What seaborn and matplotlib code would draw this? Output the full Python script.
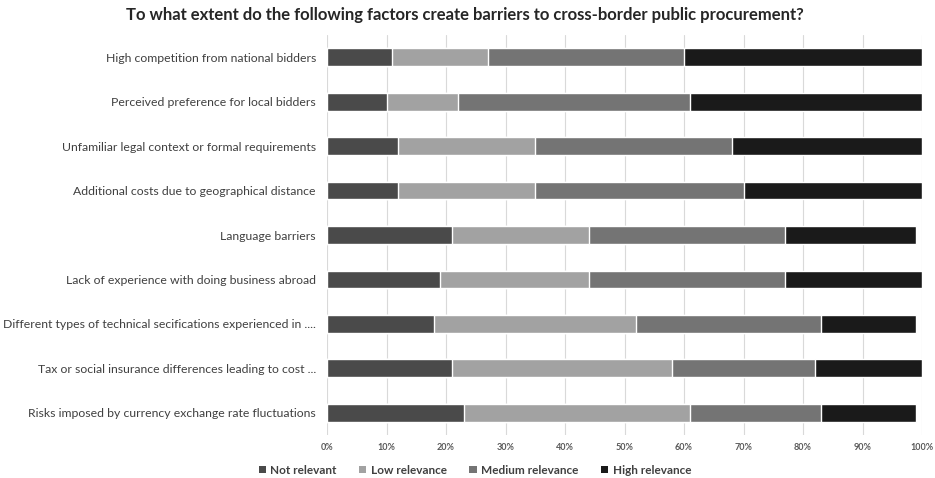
import pandas as pd
import numpy as np
import matplotlib.pyplot as plt
import seaborn as sns
from matplotlib.patches import Patch

# Dados (percentuais por categoria)
factors = [
    "High competition from national bidders",
    "Perceived preference for local bidders",
    "Unfamiliar legal context or formal requirements",
    "Additional costs due to geographical distance",
    "Language barriers",
    "Lack of experience with doing business abroad",
    "Different types of technical secifications experienced in ....",
    "Tax or social insurance differences leading to cost ...",
    "Risks imposed by currency exchange rate fluctuations",
]
not_relevant = [11, 10, 12, 12, 21, 19, 18, 21, 23]
low_relevance = [16, 12, 23, 23, 23, 25, 34, 37, 38]
medium_relevance = [33, 39, 33, 35, 33, 33, 31, 24, 22]
high_relevance = [40, 39, 32, 30, 22, 23, 16, 18, 16]

series_names = ["Not relevant", "Low relevance", "Medium relevance", "High relevance"]
colors = ["#4a4a4a", "#a2a2a2", "#747474", "#1a1a1a"]

df = pd.DataFrame({
    "factor": factors,
    "Not relevant": not_relevant,
    "Low relevance": low_relevance,
    "Medium relevance": medium_relevance,
    "High relevance": high_relevance,
})

# Acumulados para barras empilhadas
cum = df[series_names].cumsum(axis=1)

sns.set_style("white")
plt.rcParams["font.family"] = ["Lato", "DejaVu Sans"]

fig = plt.figure(figsize=(9.35, 4.78), dpi=100)
ax = fig.add_axes([327 / 935, 1 - 435 / 478, 595 / 935, 400 / 478])

# Desenha do maior acumulado para o menor
for name, color in reversed(list(zip(series_names, colors))):
    sns.barplot(x=cum[name], y=df["factor"], color=color, orient="h",
                width=0.4, ax=ax, saturation=1, zorder=3)

ax.set_xlim(0, 100)
ax.set_ylim(8.5, -0.5)
ax.set_xticks(np.arange(0, 101, 10))
ax.set_xticklabels([f"{v}%" for v in range(0, 101, 10)], fontsize=6.5,
                   fontweight="bold", color="#595959")
ax.tick_params(axis="y", labelsize=8.8, labelcolor="#404040", pad=8, length=0)
ax.tick_params(axis="x", length=0, pad=6)
ax.set_xlabel("")
ax.set_ylabel("")
ax.grid(axis="x", color="#d9d9d9", linewidth=0.8, zorder=0)
ax.grid(axis="y", visible=False)
for s in ax.spines.values():
    s.set_visible(False)

fig.suptitle("To what extent do the following factors create barriers to cross-border public procurement?",
             x=0.497, y=0.985, fontsize=12, fontweight="bold", color="#262626")

handles = [Patch(facecolor=c, edgecolor="none") for c in colors]
fig.legend(handles, series_names, loc="center", bbox_to_anchor=(0.508, 0.016),
           ncol=4, frameon=False, handlelength=0.6, handleheight=0.6,
           handletextpad=0.4, columnspacing=1.9,
           prop={"size": 8.5, "weight": "bold"}, labelcolor="#404040")

plt.savefig("out.png", dpi=100)
plt.close()
